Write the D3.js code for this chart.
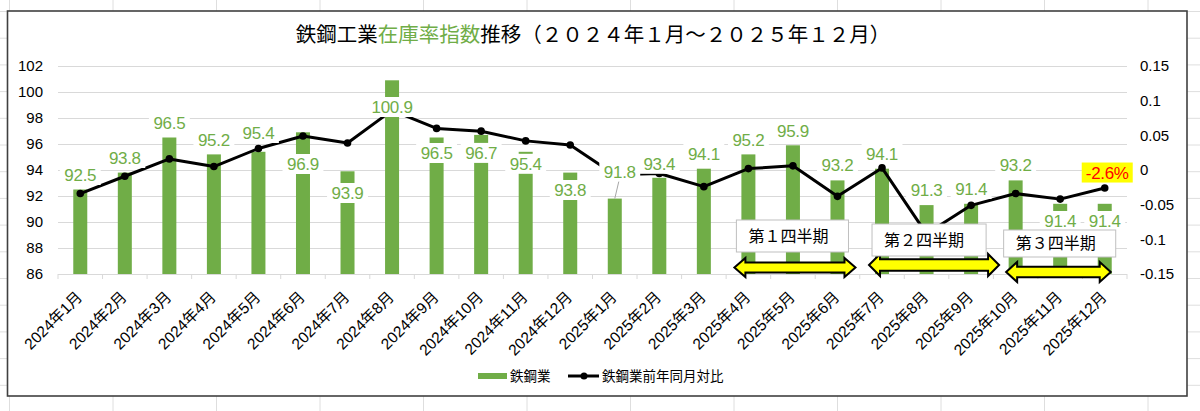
<!DOCTYPE html>
<html>
<head>
<meta charset="utf-8">
<script src="https://cdn.jsdelivr.net/npm/d3@7"></script>
<style>
  html, body { margin: 0; padding: 0; background: #fff; }
  svg { display: block; font-family: "Liberation Sans", Arial, "Noto Sans CJK JP", sans-serif; }
</style>
</head>
<body>
<div id="container"></div>
<script>
// chart data
var months = ['2024年1月', '2024年2月', '2024年3月', '2024年4月', '2024年5月', '2024年6月',
    '2024年7月', '2024年8月', '2024年9月', '2024年10月', '2024年11月', '2024年12月',
    '2025年1月', '2025年2月', '2025年3月', '2025年4月', '2025年5月', '2025年6月',
    '2025年7月', '2025年8月', '2025年9月', '2025年10月', '2025年11月', '2025年12月'];
var inventoryIndex = [92.5, 93.8, 96.5, 95.2, 95.4, 96.9, 93.9, 100.9, 96.5, 96.7, 95.4, 93.8,
    91.8, 93.4, 94.1, 95.2, 95.9, 93.2, 94.1, 91.3, 91.4, 93.2, 91.4, 91.4];
var yoyChange = [-0.034, -0.009, 0.016, 0.005, 0.031, 0.049, 0.039, 0.086, 0.060, 0.056, 0.042, 0.036,
    -0.007, -0.005, -0.024, 0.002, 0.006, -0.038, 0.003, -0.092, -0.051, -0.034, -0.042, -0.026];
var leftTicks = [86, 88, 90, 92, 94, 96, 98, 100, 102];
var rightTicks = [-0.15, -0.1, -0.05, 0, 0.05, 0.1, 0.15];
var seriesNames = ['鉄鋼業', '鉄鋼業前年同月対比'];
var titleParts = [['鉄鋼工業', '#000'], ['在庫率指数', '#70AD47'], ['推移（２０２４年１月～２０２５年１２月）', '#000']];
var lastLabel = '-2.6%';
var quarters = [
    { name: '第１四半期', from: '2025年4月', to: '2025年6月' },
    { name: '第２四半期', from: '2025年7月', to: '2025年9月' },
    { name: '第３四半期', from: '2025年10月', to: '2025年12月' }
];

// hand placement of the data labels (px from bar top), like in the sheet
var labelShift = [-14.5, -14.6, -14.5, -14.4, -18.8, 31.7, 21.7, 26.7, 15.5, 18, 12, 17.4,
    -27, -14, -14.7, -14.4, -14.3, -15.4, -14.7, -15, -14.8, -15.4, 17.2, 17.2];
// box / arrow placement for the quarter notes
var quarterLayout = [
    { bx0: -12, bx1: 11, by: 220, bh: 32, ax0: -14, ax1: 18, ay: 267.5, ah: 19 },
    { bx0: -10, bx1: 15, by: 224, bh: 32, ax0: -13, ax1: 28, ay: 265, ah: 22 },
    { bx0: -12, bx1: 11, by: 230, bh: 27, ax0: -9.5, ax1: 6, ay: 272, ah: 20 }
];

var width = 1200,
    height = 411;

var svg = d3.select('div#container')
    .append('svg')
    .attr('width', width)
    .attr('height', height);

// spreadsheet cells behind the chart
var sheet = svg.append('g');
d3.range(9.5, width, 103.5).forEach(function(x) {
    sheet.append('line').attr('x1', x).attr('x2', x).attr('y1', 0).attr('y2', height)
        .attr('stroke', '#dedede').attr('stroke-width', 1);
});
d3.range(11.5, height, 26.7).forEach(function(y) {
    sheet.append('line').attr('x1', 0).attr('x2', width).attr('y1', y).attr('y2', y)
        .attr('stroke', '#dedede').attr('stroke-width', 1);
});

// chart area
svg.append('rect')
    .attr('x', 7.5).attr('y', 11).attr('width', 1179.5).attr('height', 385)
    .attr('fill', '#fff').attr('stroke', '#404040').attr('stroke-width', 1.6);

var plot = { left: 58, right: 1127, top: 66, bottom: 274 };

var x = d3.scaleBand().domain(months).range([plot.left, plot.right]).paddingInner(0).paddingOuter(0);
var yL = d3.scaleLinear().domain([86, 102]).range([plot.bottom, plot.top]);
var yR = d3.scaleLinear().domain([-0.15, 0.15]).range([plot.bottom, plot.top]);
var cx = function(m) { return x(m) + x.bandwidth() / 2; };
var barW = 14;

// title
var title = svg.append('text')
    .attr('x', 593).attr('y', 35)
    .attr('text-anchor', 'middle').attr('dy', '0.35em')
    .style('font-family', '"Noto Sans CJK JP", sans-serif')
    .style('font-size', '20.5px');
titleParts.forEach(function(p) {
    title.append('tspan').attr('fill', p[1]).text(p[0]);
});

// gridlines
svg.append('g').selectAll('line')
    .data(leftTicks.slice(1))
    .join('line')
    .attr('x1', plot.left).attr('x2', plot.right)
    .attr('y1', function(d) { return Math.round(yL(d)) + 0.5; })
    .attr('y2', function(d) { return Math.round(yL(d)) + 0.5; })
    .attr('stroke', '#d9d9d9').attr('stroke-width', 1);

// left axis
var leftAxis = svg.append('g')
    .attr('transform', 'translate(' + (plot.left - 12) + ',0)')
    .call(d3.axisLeft(yL).tickValues(leftTicks).tickSize(0).tickFormat(d3.format('d')));
leftAxis.select('.domain').remove();
leftAxis.selectAll('text')
    .style('font-size', '15px').style('font-family', '"Liberation Sans", Arial, sans-serif')
    .attr('fill', '#000').attr('dx', 0);

// right axis
var rightAxis = svg.append('g')
    .attr('transform', 'translate(' + (plot.right + 10) + ',0)')
    .call(d3.axisRight(yR).tickValues(rightTicks).tickSize(0)
        .tickFormat(function(d) { var v = +d.toFixed(2); return v === 0 ? '0' : String(v); }));
rightAxis.select('.domain').remove();
rightAxis.selectAll('text')
    .style('font-size', '15px').style('font-family', '"Liberation Sans", Arial, sans-serif')
    .attr('fill', '#000');

// bars
svg.append('g').selectAll('rect')
    .data(inventoryIndex)
    .join('rect')
    .attr('x', function(d, i) { return cx(months[i]) - barW / 2; })
    .attr('y', function(d) { return yL(d); })
    .attr('width', barW)
    .attr('height', function(d) { return yL(86) - yL(d); })
    .attr('fill', '#70AD47');

// x axis line + tick marks between categories
svg.append('line')
    .attr('x1', plot.left).attr('x2', plot.right)
    .attr('y1', plot.bottom + 0.5).attr('y2', plot.bottom + 0.5)
    .attr('stroke', '#d9d9d9').attr('stroke-width', 1);
svg.append('g').selectAll('line')
    .data(d3.range(months.length + 1))
    .join('line')
    .attr('x1', function(i) { return plot.left + i * x.step(); })
    .attr('x2', function(i) { return plot.left + i * x.step(); })
    .attr('y1', plot.bottom).attr('y2', plot.bottom + 5)
    .attr('stroke', '#d9d9d9').attr('stroke-width', 1);

var xAxis = svg.append('g')
    .attr('transform', 'translate(0,' + plot.bottom + ')')
    .call(d3.axisBottom(x).tickSize(0));
xAxis.select('.domain').remove();
xAxis.selectAll('text')
    .attr('text-anchor', 'end')
    .attr('fill', '#000')
    .attr('y', 0).attr('dy', 0)
    .attr('transform', 'translate(3,24) rotate(-45)')
    .style('font-size', '15.5px')
    .style('font-family', '"Liberation Sans", Arial, "Noto Sans CJK JP", sans-serif');

// year-on-year line
var line = d3.line()
    .x(function(d, i) { return cx(months[i]); })
    .y(function(d) { return yR(d); });
svg.append('path')
    .datum(yoyChange)
    .attr('d', line)
    .attr('fill', 'none')
    .attr('stroke', '#000')
    .attr('stroke-width', 3)
    .attr('stroke-linejoin', 'round');
svg.append('g').selectAll('circle')
    .data(yoyChange)
    .join('circle')
    .attr('cx', function(d, i) { return cx(months[i]); })
    .attr('cy', function(d) { return yR(d); })
    .attr('r', 3.8)
    .attr('fill', '#000');

// data labels with white boxes (they cover bars and line as in Excel)
var labels = svg.append('g').selectAll('g')
    .data(inventoryIndex)
    .join('g')
    .attr('transform', function(d, i) {
        var lx = cx(months[i]) + (i === 12 ? 5 : 0);
        return 'translate(' + lx + ',' + (yL(d) + labelShift[i]) + ')';
    });
labels.append('rect').attr('class', 'bg');
labels.append('text')
    .attr('text-anchor', 'middle')
    .attr('dy', '0.36em')
    .attr('fill', '#70AD47')
    .style('font-size', '17px')
    .style('letter-spacing', '-0.3px')
    .text(function(d) { return d.toFixed(1); });
labels.each(function() {
    var g = d3.select(this),
        w = g.select('text').node().getComputedTextLength() + 9;
    g.select('rect').attr('x', -w / 2).attr('y', -10).attr('width', w).attr('height', 20).attr('fill', '#fff');
});
// leader line for the moved 2025年1月 label
svg.append('line')
    .attr('x1', cx(months[12]) + 4).attr('y1', yL(inventoryIndex[12]) + labelShift[12] + 10)
    .attr('x2', cx(months[12])).attr('y2', yL(inventoryIndex[12]))
    .attr('stroke', '#a6a6a6').attr('stroke-width', 1);

// last point label
var lastX = cx(months[months.length - 1]),
    lastY = yR(yoyChange[yoyChange.length - 1]) - 15.5;
svg.append('rect')
    .attr('x', lastX - 23).attr('y', lastY - 10).attr('width', 51).attr('height', 20)
    .attr('fill', '#FFFF00');
svg.append('text')
    .attr('x', lastX + 2.5).attr('y', lastY).attr('dy', '0.36em')
    .attr('text-anchor', 'middle').attr('fill', '#FF0000')
    .style('font-size', '17px').style('letter-spacing', '-0.3px')
    .text(lastLabel);

// quarter notes: box + double arrow
function arrowPath(x0, x1, cy, h) {
    var hh = h / 2, sh = h * 0.26, head = 11;
    return 'M' + x0 + ',' + cy +
        'L' + (x0 + head) + ',' + (cy - hh) +
        'L' + (x0 + head) + ',' + (cy - sh) +
        'L' + (x1 - head) + ',' + (cy - sh) +
        'L' + (x1 - head) + ',' + (cy - hh) +
        'L' + x1 + ',' + cy +
        'L' + (x1 - head) + ',' + (cy + hh) +
        'L' + (x1 - head) + ',' + (cy + sh) +
        'L' + (x0 + head) + ',' + (cy + sh) +
        'L' + (x0 + head) + ',' + (cy + hh) + 'Z';
}
quarters.forEach(function(q, i) {
    var L = quarterLayout[i],
        xa = cx(q.from), xb = cx(q.to);
    svg.append('path')
        .attr('d', arrowPath(xa + L.ax0, xb + L.ax1, L.ay, L.ah))
        .attr('fill', '#FFFF00').attr('stroke', '#000').attr('stroke-width', 2)
        .attr('stroke-linejoin', 'miter');
    svg.append('rect')
        .attr('x', xa + L.bx0).attr('y', L.by)
        .attr('width', (xb + L.bx1) - (xa + L.bx0)).attr('height', L.bh)
        .attr('fill', '#fff').attr('stroke', '#bfbfbf').attr('stroke-width', 1);
    svg.append('text')
        .attr('x', xa + L.bx0 + 12).attr('y', L.by + L.bh / 2).attr('dy', '0.36em')
        .style('font-family', '"Noto Sans CJK JP", sans-serif')
        .style('font-size', '16px')
        .attr('fill', '#000')
        .text(q.name);
});

// legend
var legend = svg.append('g').attr('transform', 'translate(0,376)');
legend.append('rect').attr('x', 478).attr('y', -3).attr('width', 29).attr('height', 6).attr('fill', '#70AD47');
legend.append('text').attr('x', 510).attr('dy', '0.36em')
    .style('font-family', '"Noto Sans CJK JP", sans-serif').style('font-size', '13.5px')
    .text(seriesNames[0]);
legend.append('line').attr('x1', 568).attr('x2', 599).attr('stroke', '#000').attr('stroke-width', 3);
legend.append('circle').attr('cx', 584).attr('r', 3.5).attr('fill', '#000');
legend.append('text').attr('x', 602).attr('dy', '0.36em')
    .style('font-family', '"Noto Sans CJK JP", sans-serif').style('font-size', '13.5px')
    .text(seriesNames[1]);
</script>
</body>
</html>
